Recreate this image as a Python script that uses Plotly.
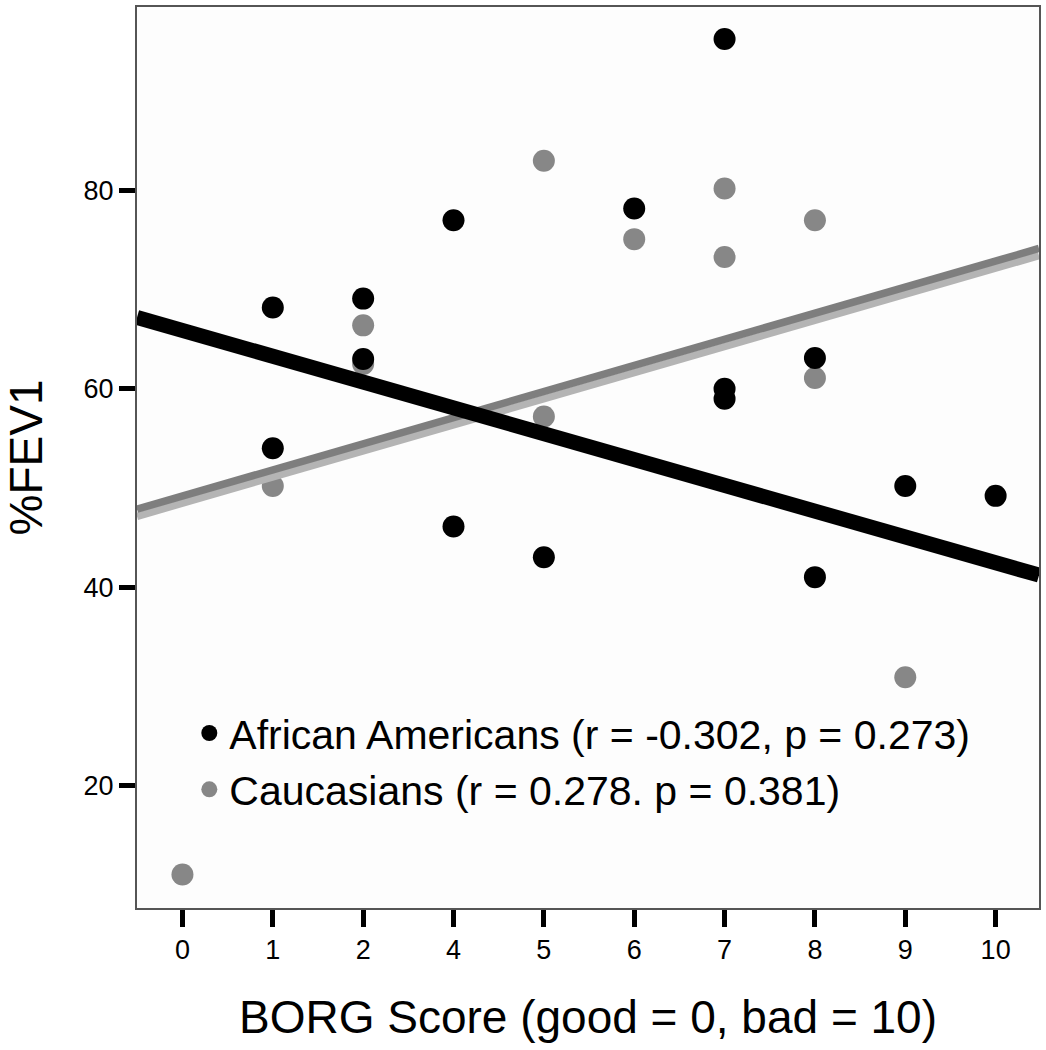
import plotly.graph_objects as go

# ---------------- data ----------------
categories = ["0", "1", "2", "4", "5", "6", "7", "8", "9", "10"]

aa_x = ["1", "1", "2", "2", "4", "4", "5", "6", "7", "7", "7", "8", "8", "9", "10"]
aa_y = [68.2, 54.0, 69.1, 63.0, 77.0, 46.1, 43.0, 78.2, 95.3, 60.0, 59.0, 63.1, 41.0, 50.2, 49.2]

ca_x = ["0", "1", "2", "2", "5", "5", "6", "7", "7", "8", "8", "9"]
ca_y = [11.0, 50.2, 66.4, 62.5, 83.0, 57.2, 75.1, 80.2, 73.3, 77.0, 61.1, 30.9]

# fit lines: values at the left and right edges of the plot
aa_fit = [67.2, 41.2]
ca_fit = [47.5, 73.8]

y_ticks = [20, 40, 60, 80]
aa_name = "African Americans (r = -0.302, p = 0.273)"
ca_name = "Caucasians (r = 0.278. p = 0.381)"

# ---------------- figure ----------------
x_range = [-0.503, 9.48]
y_range = [7.62, 98.52]

def idx(vals):
    return [categories.index(v) for v in vals]

FONT = "Liberation Sans, Arial, sans-serif"
GRAY = "#878787"

fig = go.Figure()

fig.add_trace(go.Scatter(
    x=idx(ca_x), y=ca_y, mode="markers", name=ca_name, legendrank=2,
    marker=dict(size=22, color=GRAY, line=dict(width=0)),
))
fig.add_trace(go.Scatter(
    x=idx(aa_x), y=aa_y, mode="markers", name=aa_name, legendrank=1,
    marker=dict(size=22, color="#000000", line=dict(width=0)),
))

# Caucasian fit line: solid gray upper half + stippled lighter lower half
off = 0.36
fig.add_trace(go.Scatter(
    x=x_range, y=[v - off for v in ca_fit], mode="lines", showlegend=False,
    line=dict(color="#b4b4b4", width=7.5), hoverinfo="skip",
))
fig.add_trace(go.Scatter(
    x=x_range, y=[v + off for v in ca_fit], mode="lines", showlegend=False,
    line=dict(color="#7e7e7e", width=7.5), hoverinfo="skip",
))
# African American fit line
fig.add_trace(go.Scatter(
    x=x_range, y=aa_fit, mode="lines", showlegend=False,
    line=dict(color="#000000", width=15), hoverinfo="skip",
))

fig.update_layout(
    width=1046, height=1050,
    margin=dict(l=137, r=6, t=5, b=142),
    paper_bgcolor="#ffffff",
    plot_bgcolor="#fdfdfd",
    font=dict(family=FONT, color="#000000"),
    legend=dict(
        x=0.058, y=0.231, xanchor="left", yanchor="top",
        bgcolor="rgba(0,0,0,0)", borderwidth=0,
        font=dict(size=41, family=FONT, color="#000000"),
        itemsizing="trace",
    ),
    showlegend=True,
)

fig.update_xaxes(
    range=x_range,
    tickmode="array", tickvals=list(range(len(categories))), ticktext=categories,
    ticks="outside", ticklen=17, tickwidth=5, tickcolor="#000000",
    tickfont=dict(size=27, family=FONT, color="#000000"),
    showgrid=False, zeroline=False,
    showline=True, linecolor="#555555", linewidth=2, mirror=True,
    title=dict(text="BORG Score (good = 0, bad = 10)",
               font=dict(size=46, family=FONT, color="#000000"), standoff=36),
)
fig.update_yaxes(
    range=y_range,
    tickmode="array", tickvals=y_ticks, ticktext=[str(v) for v in y_ticks],
    ticks="outside", ticklen=16, tickwidth=5, tickcolor="#000000",
    tickfont=dict(size=27, family=FONT, color="#000000"),
    showgrid=False, zeroline=False,
    showline=True, linecolor="#555555", linewidth=2, mirror=True,
    title=dict(text="%FEV1",
               font=dict(size=46, family=FONT, color="#000000"), standoff=34),
)

fig.write_html(
    "out.html",
    config={"displayModeBar": False},
    post_script="document.body.style.margin='0';document.body.style.overflow='hidden';",
)
